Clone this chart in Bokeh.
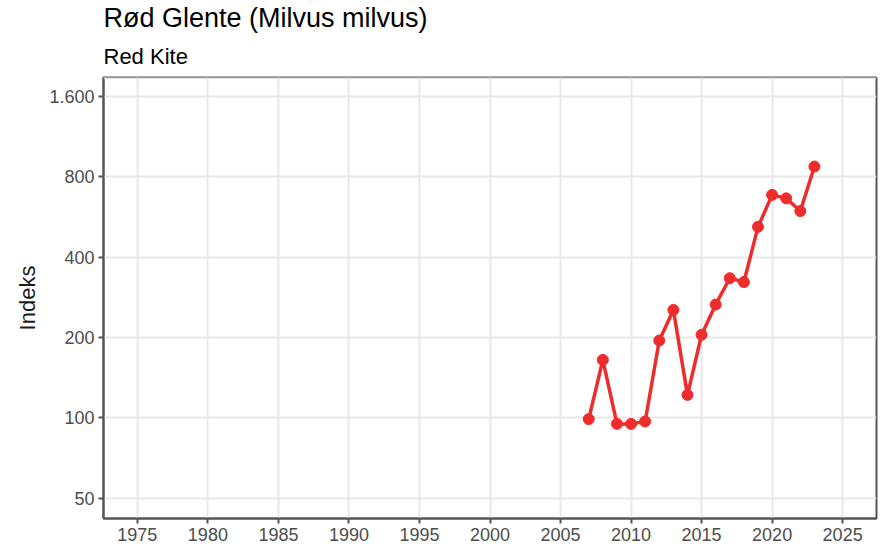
from bokeh.plotting import figure
from bokeh.models import Range1d, FixedTicker, Title, Span
from bokeh.embed import file_html
from bokeh.resources import INLINE

years = [2007, 2008, 2009, 2010, 2011, 2012, 2013, 2014, 2015,
         2016, 2017, 2018, 2019, 2020, 2021, 2022, 2023]
index = [99, 165, 95, 95, 97, 195, 254, 122, 205,
         266, 334, 323, 520, 685, 665, 596, 875]
x_ticks = [1975, 1980, 1985, 1990, 1995, 2000, 2005, 2010, 2015, 2020, 2025]
y_ticks = [50, 100, 200, 400, 800, 1600]
y_labels = ["50", "100", "200", "400", "800", "1.600"]

FONT = "Liberation Sans"
RED = "#EE2C2C"
AXIS = "#555555"
Y_MAX = 1886

p = figure(width=881, height=549, output_backend="svg", toolbar_location=None,
           y_axis_type="log",
           x_range=Range1d(1972.6, 2027.4), y_range=Range1d(42, Y_MAX),
           min_border_left=103, min_border_right=5, min_border_bottom=31,
           min_border_top=0)
p.title = None

sub = Title(text="Red Kite", text_font=FONT, text_font_size="22px",
            text_font_style="normal", text_color="#000000", align="left",
            standoff=17)
main = Title(text="Rød Glente (Milvus milvus)", text_font=FONT,
             text_font_size="27px", text_font_style="normal",
             text_color="#000000", align="left", standoff=1)
p.add_layout(sub, "above")
p.add_layout(main, "above")

p.xaxis.ticker = FixedTicker(ticks=x_ticks)
p.yaxis.ticker = FixedTicker(ticks=y_ticks)
p.yaxis.major_label_overrides = {t: l for t, l in zip(y_ticks, y_labels)}

for ax in (p.xaxis, p.yaxis):
    ax.axis_line_color = AXIS
    ax.axis_line_width = 2
    ax.major_tick_line_color = AXIS
    ax.major_tick_line_width = 2
    ax.major_tick_out = 5
    ax.major_tick_in = 0
    ax.minor_tick_line_color = None
    ax.major_label_text_font = FONT
    ax.major_label_text_font_size = "18px"
    ax.major_label_text_color = "#4d4d4d"
    ax.major_label_standoff = 4
p.xaxis.axis_label_standoff = 0

p.yaxis.axis_label = "Indeks"
p.yaxis.axis_label_text_font = FONT
p.yaxis.axis_label_text_font_size = "22px"
p.yaxis.axis_label_text_font_style = "normal"
p.yaxis.axis_label_text_color = "#1a1a1a"
p.yaxis.axis_label_standoff = 6

p.xgrid.grid_line_color = "#e8e8e8"
p.ygrid.grid_line_color = "#e8e8e8"
p.xgrid.grid_line_width = 2
p.ygrid.grid_line_width = 2
p.outline_line_color = AXIS
p.outline_line_width = 2
p.background_fill_color = "white"
p.border_fill_color = "white"

# lighter top edge of the panel
p.add_layout(Span(location=Y_MAX, dimension="width", line_color="#e0e0e0",
                  line_width=3))

p.line(years, index, line_color=RED, line_width=3.5)
p.scatter(years, index, size=11, fill_color=RED, line_color=RED)

open("out.html", "w").write(file_html(p, INLINE))
